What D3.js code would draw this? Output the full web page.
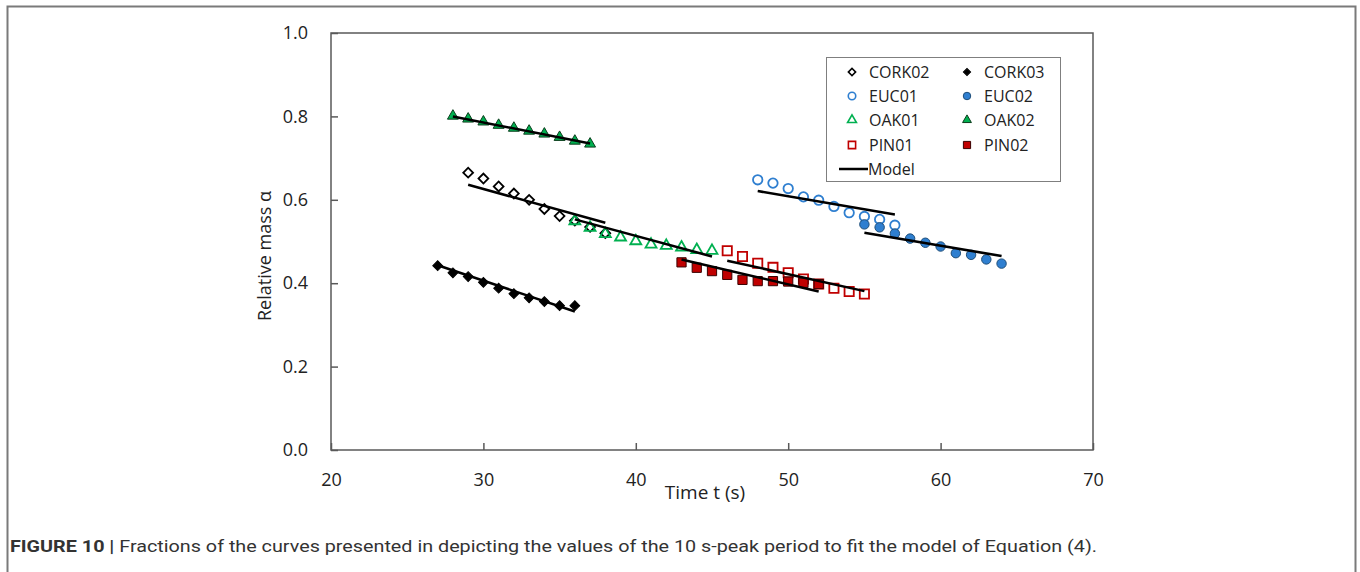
<!DOCTYPE html>
<html>
<head>
<meta charset="utf-8">
<script src="https://cdn.jsdelivr.net/npm/d3@7"></script>
<style>
  body { margin: 0; background: #fff; }
  svg { display: block; }
  .tick text { font-family: "Open Sans", sans-serif; font-size: 18px; fill: #222; }
  .title { font-family: "Open Sans", sans-serif; fill: #222; }
  .legend text { font-family: "Open Sans", sans-serif; font-size: 16px; fill: #222; }
  .caption { font-family: "Liberation Sans Narrow", "Roboto", sans-serif; font-size: 16px; fill: #333; }
</style>
</head>
<body>
<script>
// relative mass vs time for each sample, 10 s window around the peak
var cork02T = [29, 30, 31, 32, 33, 34, 35, 36, 37, 38];
var cork02A = [0.665, 0.651, 0.632, 0.615, 0.600, 0.578, 0.561, 0.550, 0.535, 0.520];
var cork03T = [27, 28, 29, 30, 31, 32, 33, 34, 35, 36];
var cork03A = [0.442, 0.425, 0.416, 0.402, 0.388, 0.375, 0.365, 0.356, 0.346, 0.346];
var euc01T = [48, 49, 50, 51, 52, 53, 54, 55, 56, 57];
var euc01A = [0.648, 0.640, 0.627, 0.607, 0.599, 0.584, 0.569, 0.560, 0.553, 0.539];
var euc02T = [55, 56, 57, 58, 59, 60, 61, 62, 63, 64];
var euc02A = [0.541, 0.534, 0.519, 0.507, 0.497, 0.488, 0.472, 0.468, 0.457, 0.447];
var oak01T = [36, 37, 38, 39, 40, 41, 42, 43, 44, 45];
var oak01A = [0.549, 0.533, 0.518, 0.510, 0.501, 0.493, 0.490, 0.486, 0.480, 0.478];
var oak02T = [28, 29, 30, 31, 32, 33, 34, 35, 36, 37];
var oak02A = [0.801, 0.794, 0.787, 0.779, 0.772, 0.765, 0.758, 0.750, 0.741, 0.734];
var pin01T = [46, 47, 48, 49, 50, 51, 52, 53, 54, 55];
var pin01A = [0.478, 0.464, 0.448, 0.438, 0.425, 0.410, 0.398, 0.388, 0.380, 0.374];
var pin02T = [43, 44, 45, 46, 47, 48, 49, 50, 51, 52];
var pin02A = [0.450, 0.437, 0.429, 0.420, 0.408, 0.405, 0.405, 0.404, 0.401, 0.398];

// fitted model: [t start, alpha start, t end, alpha end]
var modelCork02 = [29, 0.636, 38, 0.545];
var modelCork03 = [27, 0.443, 36, 0.332];
var modelEuc01 = [48, 0.621, 57, 0.565];
var modelEuc02 = [55, 0.521, 64, 0.465];
var modelOak01 = [36, 0.553, 45, 0.464];
var modelOak02 = [28, 0.800, 37, 0.735];
var modelPin01 = [46, 0.454, 55, 0.381];
var modelPin02 = [43, 0.457, 52, 0.380];

var xTicks = [20, 30, 40, 50, 60, 70];
var yTicks = [0, 0.2, 0.4, 0.6, 0.8, 1.0];

(function() {
  var W = 1360, H = 572;
  var plotL = 331, plotR = 1093, plotT = 33, plotB = 450;

  var blue = "#2f7fd0", green = "#00b050", red = "#c00000";

  var series = [
    {name: "CORK02", t: cork02T, a: cork02A, shape: "diamond", fill: "none", stroke: "#000"},
    {name: "CORK03", t: cork03T, a: cork03A, shape: "diamond", fill: "#000", stroke: "#000"},
    {name: "EUC01", t: euc01T, a: euc01A, shape: "circle", fill: "none", stroke: blue},
    {name: "EUC02", t: euc02T, a: euc02A, shape: "circle", fill: blue, stroke: "#1f4e79"},
    {name: "OAK01", t: oak01T, a: oak01A, shape: "triangle", fill: "none", stroke: green},
    {name: "OAK02", t: oak02T, a: oak02A, shape: "triangle", fill: green, stroke: "#0b3d1c"},
    {name: "PIN01", t: pin01T, a: pin01A, shape: "square", fill: "none", stroke: red},
    {name: "PIN02", t: pin02T, a: pin02A, shape: "square", fill: red, stroke: "#3a0000"}
  ];
  var models = [modelCork02, modelCork03, modelEuc01, modelEuc02, modelOak01, modelOak02, modelPin01, modelPin02];

  var svg = d3.select("body").append("svg").attr("width", W).attr("height", H);

  // outer figure frame (open at the bottom)
  svg.append("path")
    .attr("d", "M7.5,572V6.5H1355.5V572")
    .attr("fill", "none").attr("stroke", "#7a7a7a").attr("stroke-width", 2);

  var x = d3.scaleLinear().domain([20, 70]).range([plotL, plotR]);
  var y = d3.scaleLinear().domain([0, 1]).range([plotB, plotT]);

  // plot frame
  svg.append("rect")
    .attr("x", plotL).attr("y", plotT)
    .attr("width", plotR - plotL).attr("height", plotB - plotT)
    .attr("fill", "none").attr("stroke", "#595959").attr("stroke-width", 1.5);

  var xAxis = svg.append("g")
    .attr("transform", "translate(0," + plotB + ")")
    .call(d3.axisBottom(x).tickValues(xTicks).tickSize(-7).tickFormat(d3.format("d")));
  var yAxis = svg.append("g")
    .attr("transform", "translate(" + plotL + ",0)")
    .call(d3.axisLeft(y).tickValues(yTicks).tickSize(-7).tickPadding(23).tickFormat(d3.format(".1f")));
  [xAxis, yAxis].forEach(function(g) {
    g.select(".domain").remove();
    g.selectAll(".tick line").attr("stroke", "#595959").attr("stroke-width", 1.5);
  });
  xAxis.selectAll(".tick text").attr("y", 30).attr("dy", "0.35em");

  svg.append("text").attr("class", "title")
    .attr("x", 705).attr("y", 499).attr("text-anchor", "middle")
    .style("font-size", "19px").text("Time t (s)");
  svg.append("text").attr("class", "title")
    .attr("transform", "translate(271,256)rotate(-90)")
    .attr("text-anchor", "middle").style("font-size", "18px")
    .text("Relative mass α");

  var symbols = {
    diamond: d3.symbol().type(d3.symbolSquare).size(48),
    circle: d3.symbol().type(d3.symbolCircle).size(70),
    triangle: d3.symbol().type(d3.symbolTriangle).size(52),
    square: d3.symbol().type(d3.symbolSquare).size(85)
  };
  var legendSymbols = {
    diamond: d3.symbol().type(d3.symbolSquare).size(26),
    circle: d3.symbol().type(d3.symbolCircle).size(44),
    triangle: d3.symbol().type(d3.symbolTriangle).size(34),
    square: d3.symbol().type(d3.symbolSquare).size(52)
  };

  function markerTransform(shape, px, py) {
    return "translate(" + px + "," + py + ")" + (shape === "diamond" ? "rotate(45)" : "");
  }

  // markers
  series.forEach(function(s) {
    svg.append("g").selectAll("path")
      .data(s.t.map(function(t, i) { return [t, s.a[i]]; }))
      .enter().append("path")
      .attr("d", symbols[s.shape]())
      .attr("transform", function(d) { return markerTransform(s.shape, x(d[0]), y(d[1])); })
      .attr("fill", s.fill)
      .attr("stroke", s.stroke)
      .attr("stroke-width", s.fill === "none" ? 1.8 : 1);
  });

  // model fits
  svg.append("g").selectAll("line")
    .data(models)
    .enter().append("line")
    .attr("x1", function(m) { return x(m[0]); })
    .attr("y1", function(m) { return y(m[1]); })
    .attr("x2", function(m) { return x(m[2]); })
    .attr("y2", function(m) { return y(m[3]); })
    .attr("stroke", "#000").attr("stroke-width", 2.5);

  // legend
  var lg = svg.append("g").attr("class", "legend");
  lg.append("rect")
    .attr("x", 826.5).attr("y", 57.5).attr("width", 234).attr("height", 124)
    .attr("fill", "#fff").attr("stroke", "#7f7f7f").attr("stroke-width", 1);
  var rowY = [72, 96, 120, 145, 169];
  series.forEach(function(s, i) {
    var col = i % 2, row = Math.floor(i / 2);
    var mx = col === 0 ? 852 : 967;
    lg.append("path")
      .attr("d", legendSymbols[s.shape]())
      .attr("transform", markerTransform(s.shape, mx, rowY[row]))
      .attr("fill", s.fill).attr("stroke", s.stroke)
      .attr("stroke-width", s.fill === "none" ? 1.6 : 1);
    lg.append("text")
      .attr("x", mx + 17).attr("y", rowY[row]).attr("dy", "0.35em")
      .text(s.name);
  });
  lg.append("line")
    .attr("x1", 839).attr("x2", 868).attr("y1", rowY[4]).attr("y2", rowY[4])
    .attr("stroke", "#000").attr("stroke-width", 2.5);
  lg.append("text").attr("x", 868).attr("y", rowY[4]).attr("dy", "0.35em").text("Model");

  // caption
  var cap = svg.append("text").attr("class", "caption").attr("x", 10).attr("y", 552)
    .attr("textLength", 1087).attr("lengthAdjust", "spacingAndGlyphs");
  cap.append("tspan").attr("font-weight", "bold").text("FIGURE 10 | ");
  cap.append("tspan").text("Fractions of the curves presented in depicting the values of the 10 s-peak period to fit the model of Equation (4).");
})();
</script>
</body>
</html>
